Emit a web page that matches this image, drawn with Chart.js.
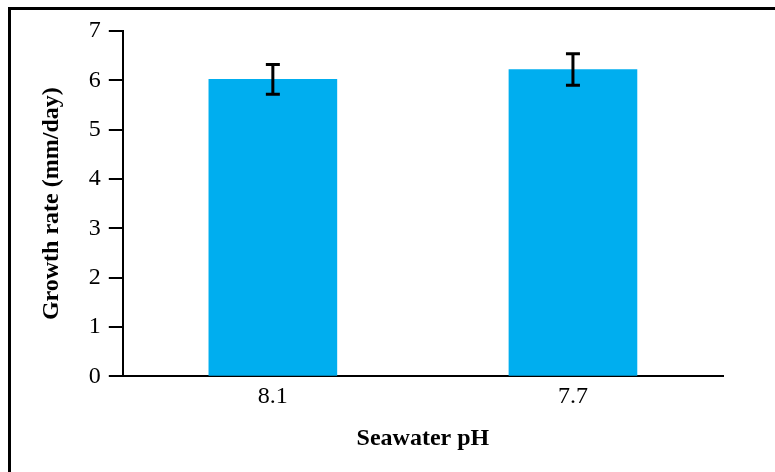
<!DOCTYPE html>
<html>
<head>
<meta charset="utf-8">
<script src="https://cdn.jsdelivr.net/npm/chart.js@4"></script>
<style>
  html, body { margin: 0; padding: 0; background: #fff; }
  #wrap { position: relative; width: 775px; height: 472px; }
  #frame {
    position: absolute; left: 8px; top: 7px; right: 0; bottom: 0;
    border-top: 3px solid #000; border-left: 3px solid #000;
    pointer-events: none;
  }
</style>
</head>
<body>
<div id="wrap">
  <canvas id="growthChart" width="775" height="472"></canvas>
  <div id="frame"></div>
</div>
<script>
const phLevels = ["8.1", "7.7"];
const growthRate = [6.02, 6.22];
const growthErr = [0.30, 0.32];
const yTicks = [0, 1, 2, 3, 4, 5, 6, 7];

// draw the error bars on top of the bars
const errorBars = {
  id: "errorBars",
  afterDatasetsDraw(chart) {
    const ctx = chart.ctx;
    const y = chart.scales.y;
    const meta = chart.getDatasetMeta(0);
    ctx.save();
    ctx.strokeStyle = "#000";
    ctx.lineWidth = 3;
    meta.data.forEach((bar, i) => {
      const top = y.getPixelForValue(growthRate[i] + growthErr[i]);
      const bot = y.getPixelForValue(growthRate[i] - growthErr[i]);
      const x = bar.x;
      ctx.beginPath();
      ctx.moveTo(x, top); ctx.lineTo(x, bot);
      ctx.moveTo(x - 7, top); ctx.lineTo(x + 7, top);
      ctx.moveTo(x - 7, bot); ctx.lineTo(x + 7, bot);
      ctx.stroke();
    });
    ctx.restore();
  }
};

const ctx = document.getElementById("growthChart").getContext("2d");
new Chart(ctx, {
  type: "bar",
  data: {
    labels: phLevels,
    datasets: [{
      data: growthRate,
      backgroundColor: "#00AEEF",
      borderWidth: 0,
      barThickness: 128
    }]
  },
  options: {
    responsive: false,
    animation: false,
    layout: { padding: { left: 37, right: 52, top: 31, bottom: 19 } },
    plugins: { legend: { display: false }, tooltip: { enabled: false } },
    scales: {
      x: {
        grid: { display: false, drawTicks: false },
        border: { display: true, color: "#000", width: 2 },
        ticks: { color: "#000", padding: 6, font: { family: "Liberation Serif", size: 24 } },
        title: {
          display: true,
          text: "Seawater pH",
          color: "#000",
          padding: { top: 7, bottom: 0 },
          font: { family: "Liberation Serif", size: 24, weight: "bold" }
        }
      },
      y: {
        min: 0,
        max: 7,
        afterBuildTicks(scale) { scale.ticks = yTicks.map(v => ({ value: v })); },
        grid: { drawOnChartArea: false, drawTicks: true, tickLength: 14, color: "#000", lineWidth: 2 },
        border: { display: true, color: "#000", width: 2 },
        ticks: { color: "#000", padding: 8, font: { family: "Liberation Serif", size: 24 } },
        title: {
          display: true,
          text: "Growth rate (mm/day)",
          color: "#000",
          padding: { top: 0, bottom: 15 },
          font: { family: "Liberation Serif", size: 24, weight: "bold" }
        }
      }
    }
  },
  plugins: [errorBars]
});
</script>
</body>
</html>
